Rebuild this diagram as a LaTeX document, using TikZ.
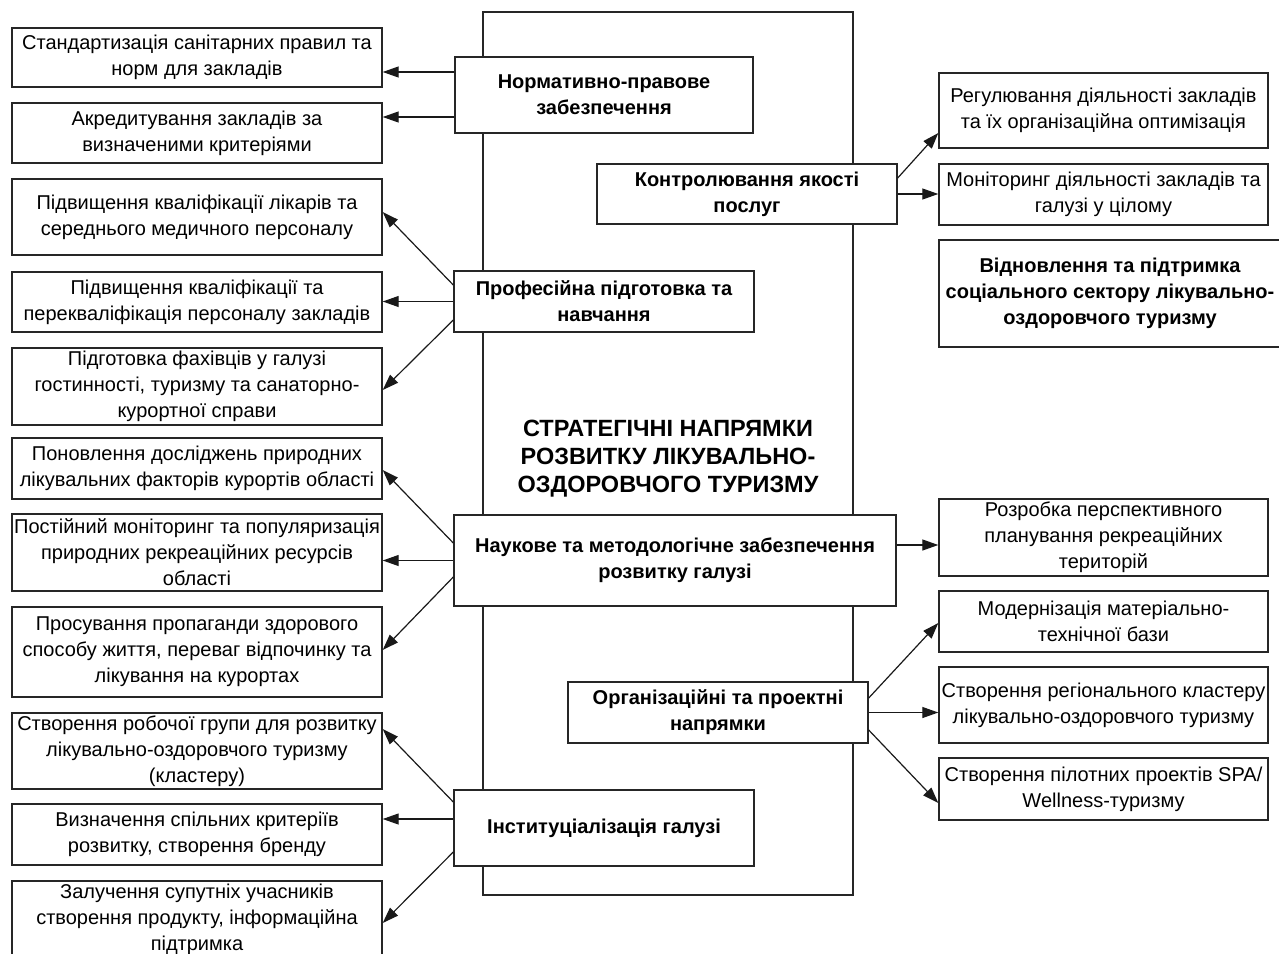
\documentclass[tikz,border=0pt]{standalone}
\usepackage{fontspec}
\setmainfont{Liberation Sans}
\usetikzlibrary{arrows.meta}
\begin{document}
\begin{tikzpicture}[x=1pt,y=-1pt,
  every node/.style={font=\fontsize{20}{26}\selectfont},
  basebox/.style={draw=black!85, line width=1.4pt, fill=white, inner sep=0pt, align=center},
  lbox/.style={basebox, minimum width=370pt},
  rbox/.style={basebox, minimum width=329pt},
  mbox/.style={basebox, font=\fontsize{20}{26}\selectfont\bfseries},
  arr/.style={draw=black!90, line width=1.2pt, -{Triangle[length=16pt,width=11pt]}}]
\useasboundingbox (0,0) rectangle (1279,953);
% main frame
\node[draw=black!85, line width=1.4pt, minimum width=370pt, minimum height=883pt, inner sep=0pt] (main) at (668,453.5) {};
\node[font=\fontsize{23.5}{28}\selectfont\bfseries, align=center] (title) at (668,459) {СТРАТЕГІЧНІ НАПРЯМКИ\\РОЗВИТКУ ЛІКУВАЛЬНО-\\ОЗДОРОВЧОГО ТУРИЗМУ};
% left boxes
\node[lbox, minimum height=59pt] (l1) at (197,57.5) {Стандартизація санітарних правил та\\норм для закладів};
\node[lbox, minimum height=60pt] (l2) at (197,133) {Акредитування закладів за\\визначеними критеріями};
\node[lbox, minimum height=76pt] (l3) at (197,217) {Підвищення кваліфікації лікарів та\\середнього медичного персоналу};
\node[lbox, minimum height=60pt] (l4) at (197,302) {Підвищення кваліфікації та\\перекваліфікація персоналу закладів};
\node[lbox, minimum height=77pt] (l5) at (197,386.5) {Підготовка фахівців у галузі\\гостинності, туризму та санаторно-\\курортної справи};
\node[lbox, minimum height=61pt] (l6) at (197,468.5) {Поновлення досліджень природних\\лікувальних факторів курортів області};
\node[lbox, minimum height=77pt] (l7) at (197,552.5) {Постійний моніторинг та популяризація\\природних рекреаційних ресурсів\\області};
\node[lbox, minimum height=90pt] (l8) at (197,652) {Просування пропаганди здорового\\способу життя, переваг відпочинку та\\лікування на курортах};
\node[lbox, minimum height=76pt] (l9) at (197,751) {Створення робочої групи для розвитку\\лікувально-оздоровчого туризму\\(кластеру)};
\node[lbox, minimum height=61pt] (l10) at (197,834.5) {Визначення спільних критеріїв\\розвитку, створення бренду};
\node[lbox, minimum height=77pt] (l11) at (197,919.5) {Залучення супутніх учасників\\створення продукту, інформаційна\\підтримка};
% middle boxes
\node[mbox, minimum width=298pt, minimum height=76pt] (a) at (604,95) {Нормативно-правове\\забезпечення};
\node[mbox, minimum width=300pt, minimum height=60pt] (b) at (747,194) {Контролювання якості\\послуг};
\node[mbox, minimum width=300pt, minimum height=61pt] (c) at (604,301.5) {Професійна підготовка та\\навчання};
\node[mbox, minimum width=442pt, minimum height=91pt] (d) at (675,560.5) {Наукове та методологічне забезпечення\\розвитку галузі};
\node[mbox, minimum width=300pt, minimum height=61pt] (e) at (718,712.5) {Організаційні та проектні\\напрямки};
\node[mbox, minimum width=300pt, minimum height=76pt] (f) at (604,828) {Інституціалізація галузі};
% right boxes
\node[rbox, minimum height=75pt] (r1) at (1103.5,110.5) {Регулювання діяльності закладів\\та їх організаційна оптимізація};
\node[rbox, minimum height=61pt] (r2) at (1103.5,194.5) {Моніторинг діяльності закладів та\\галузі у цілому};
\node[mbox, minimum width=342pt, minimum height=107pt] (r3) at (1110,293.5) {Відновлення та підтримка\\соціального сектору лікувально-\\оздоровчого туризму};
\node[rbox, minimum height=77pt] (r4) at (1103.5,537.5) {Розробка перспективного\\планування рекреаційних\\територій};
\node[rbox, minimum height=61pt] (r5) at (1103.5,621.5) {Модернізація матеріально-\\технічної бази};
\node[rbox, minimum height=76pt] (r6) at (1103.5,705) {Створення регіонального кластеру\\лікувально-оздоровчого туризму};
\node[rbox, minimum height=62pt] (r7) at (1103.5,789) {Створення пілотних проектів SPA/\\Wellness-туризму};
% connectors
\draw[arr] ([yshift=23pt]a.west) -- ([yshift=23pt]a.west -| l1.east);
\draw[arr] ([yshift=-22pt]a.west) -- ([yshift=-22pt]a.west -| l2.east);
\draw[arr] ([yshift=16.5pt]c.west) -- ([yshift=5pt]l3.east);
\draw[arr] (c.west) -- (c.west -| l4.east);
\draw[arr] ([yshift=-18.5pt]c.west) -- ([yshift=-3.5pt]l5.east);
\draw[arr] ([yshift=16pt]b.east) -- ([yshift=-22.5pt]r1.west);
\draw[arr] (b.east) -- (b.east -| r2.west);
\draw[arr] ([yshift=17.5pt]d.west) -- ([yshift=-1.5pt]l6.east);
\draw[arr] (d.west) -- (d.west -| l7.east);
\draw[arr] ([yshift=-16.5pt]d.west) -- ([yshift=2pt]l8.east);
\draw[arr] ([yshift=15.5pt]d.east) -- ([yshift=15.5pt]d.east -| r4.west);
\draw[arr] ([yshift=14.5pt]e.east) -- ([yshift=-1.5pt]r5.west);
\draw[arr] (e.east) -- (e.east -| r6.west);
\draw[arr] ([yshift=-17.5pt]e.east) -- ([yshift=-14pt]r7.west);
\draw[arr] ([yshift=26pt]f.west) -- ([yshift=22pt]l9.east);
\draw[arr] ([yshift=9pt]f.west) -- ([yshift=9pt]f.west -| l10.east);
\draw[arr] ([yshift=-24pt]f.west) -- ([yshift=-3.5pt]l11.east);
\end{tikzpicture}
\end{document}
